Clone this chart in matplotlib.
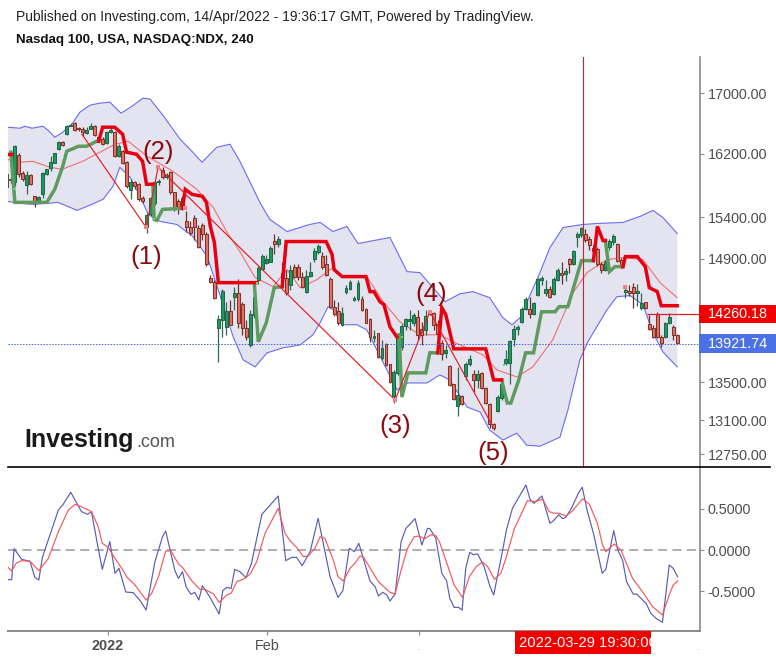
import numpy as np
import matplotlib
matplotlib.use("Agg")
import matplotlib.pyplot as plt
from matplotlib.lines import Line2D
from matplotlib.patches import Rectangle

W, H = 776, 660
plt.rcParams['font.family'] = ['Liberation Sans', 'DejaVu Sans']

opens = [15770,15871,15833,16178,15947,15795,15921,15657,15595,15682,15934,16011,16075,16256,16347,16452,16562,16597,16531,16518,16465,16518,16557,16413,16387,16334,16478,16478,16166,16230,16088,15733,15833,15808,15632,15273,15433,15570,15833,15985,15896,15960,15707,15595,15520,15347,15273,15384,15261,15298,15200,14675,14628,14099,14190,14111,14293,14454,14500,14373,14100,13909,14247,14651,14781,14852,14864,15115,15079,14734,14675,14593,14804,14804,14687,14512,14698,14899,14983,14935,14840,14663,14339,14293,14134,14512,14547,14419,14431,14431,14316,14202,13988,14044,13766,13920,13700,13354,13602,13887,14122,14179,14156,14224,14088,14077,14293,14270,14145,13931,13821,13678,13482,13248,13354,13569,13700,13591,13526,13602,13440,13269,13059,13195,13333,13711,13711,13976,14088,14167,14316,14316,14258,14477,14651,14500,14547,14488,14651,14734,14722,14899,14840,15152,15176,15200,15139,15031,15019,14840,14769,15043,15103,15079,14887,14512,14523,14570,14500,14327,14396,14145,14100,14258,13999,13999,14156,14111,14021]
highs = [15934,15896,16308,16204,15973,15973,15934,15657,15657,15960,15998,16166,16204,16360,16360,16571,16597,16610,16544,16544,16544,16597,16571,16439,16413,16491,16531,16491,16321,16243,16101,15871,15846,15821,15657,15445,15645,15846,15871,16024,15947,15973,15707,15620,15657,15470,15347,15421,15298,15322,15224,14710,14651,14247,14547,14396,14419,14570,14663,14396,14190,14304,14477,14816,14959,14947,15055,15188,15164,14864,14769,14828,14840,14840,14745,14769,14864,15031,15079,14983,14947,14687,14419,14396,14339,14593,14651,14466,14651,14466,14327,14213,14077,14044,13965,13931,13700,13634,14021,14145,14213,14304,14270,14304,14167,14304,14304,14281,14190,13965,13909,13689,13482,13667,13365,13722,13799,13634,13634,13612,13451,13279,13069,13365,13526,13854,13965,14134,14134,14339,14454,14454,14396,14675,14698,14651,14581,14687,14793,14864,14793,14911,15007,15224,15273,15249,15164,15067,15043,14864,14887,15139,15188,15091,14911,14570,14593,14616,14604,14500,14396,14247,14134,14281,14021,14167,14270,14134,14032]
lows = [15770,15821,15783,15896,15846,15682,15795,15520,15570,15632,15921,15973,16075,16243,16295,16439,16557,16491,16491,16426,16452,16518,16426,16360,16308,16321,16465,16153,16153,16062,15758,15620,15745,15595,15570,15212,15409,15545,15795,15871,15871,15682,15470,15433,15483,15224,15176,15127,15031,15127,14816,14616,14431,13722,13999,14021,14134,14304,14100,14021,13965,13887,14213,14640,14769,14840,14864,14959,15043,14628,14477,14535,14675,14651,14558,14500,14687,14864,14959,14781,14698,14327,14236,14134,14122,14488,14535,14408,14408,14293,14156,13943,13943,13766,13744,13678,13493,13279,13580,13854,14077,14077,14122,13965,13909,14021,14247,14077,13909,13744,13766,13461,13311,13142,13258,13526,13678,13397,13440,13429,13269,13017,12996,13184,13311,13689,13482,13898,14021,14156,14304,14213,14247,14466,14593,14466,14442,14477,14640,14604,14640,14734,14828,15043,15152,15103,15007,14887,14816,14734,14757,15007,15067,14864,14793,14442,14466,14327,14350,14304,14316,14077,13988,13988,13887,13988,14145,13965,13920]
closes = [15934,15858,16295,15934,15871,15921,15808,15595,15645,15947,15998,16088,16204,16347,16308,16557,16575,16505,16518,16478,16505,16557,16439,16373,16321,16478,16505,16166,16295,16075,15783,15833,15783,15620,15595,15421,15632,15833,15846,15896,15921,15707,15520,15520,15632,15273,15212,15273,15043,15200,14840,14628,14442,14201,14523,14293,14134,14500,14156,14100,13999,14258,14454,14793,14935,14899,15031,15079,15139,14675,14500,14769,14687,14687,14570,14698,14745,14995,15055,14804,14710,14339,14258,14156,14270,14558,14628,14431,14616,14304,14156,13999,14010,13777,13876,13689,13504,13612,13988,14122,14202,14202,14247,14021,14021,14236,14258,14134,14032,13810,13854,13472,13322,13365,13269,13700,13755,13526,13591,13440,13279,13059,13017,13343,13482,13755,13953,14088,14111,14316,14431,14258,14385,14663,14663,14547,14454,14663,14769,14710,14757,14840,14995,15200,15261,15127,15067,14995,14840,14769,14864,15115,15164,14875,14816,14523,14500,14500,14523,14385,14327,14088,13999,13999,13931,14156,14224,14021,13931]

upper_i = [0,3.3,4.5,6.3,9,10.3,12,14,16.3,18.3,20.8,23.3,25.8,28.6,31.4,34.1,35.9,39.1,43.4,46.6,48.9,52.6,55.9,58.4,63.4,65.9,70.2,75.9,78.5,81.7,85.2,88,96,100.3,103.5,106.8,109.8,113.6,116.8,121,124.3,126.6,128.6,133.6,136.1,139.4,144.4,147.9,154.4,158.7,161.9,164.4,168]
upper_v = [16544,16531,16557,16531,16557,16505,16413,16478,16584,16743,16837,16864,16878,16730,16824,16932,16918,16703,16387,16217,16088,16282,16321,16101,15582,15372,15224,15310,15335,15224,15286,15079,15152,14745,14734,14558,14396,14488,14512,14442,14213,14134,14213,14734,15031,15273,15310,15322,15335,15409,15483,15396,15200]
lower_i = [0,3.3,6.5,10.3,12.8,17.6,21.3,24.1,26.6,28.3,30.9,33.4,35.4,38.4,42.6,46.6,50.2,52.7,56.7,59.2,62.2,65.2,69.2,73.5,76.7,78.5,80.5,81.7,84.2,87.7,90.2,92.7,97.8,100.5,105.3,108.5,111,115.3,118.6,121,124.3,127.8,130.3,133.6,138.6,140.6,143.6,145.6,150.4,152.9,156.2,159.4,161.9,164.4,168]
lower_v = [15595,15570,15557,15570,15582,15483,15557,15620,15783,16024,15896,15657,15433,15347,15310,15164,14923,14570,13999,13744,13667,13821,13876,13909,14021,14156,14339,14304,14134,14134,14077,13854,13418,13493,13493,13580,13526,13237,13184,12996,12893,12964,12840,12830,12922,13205,13744,13943,14304,14454,14466,14362,14044,13832,13667]
middle_i = [0,3.3,6.5,10.8,13.8,19,23.3,27.1,30.4,35.1,41.6,47.6,51.7,55.2,58.4,62.2,66.7,70.2,73.5,77.7,81.7,84.2,90.2,94.3,98.5,103.5,108.5,111.8,119.3,122.8,127.8,131.8,136.8,141.9,145.4,150.4,154.4,159.4,163.7,168]
middle_v = [16127,16088,16101,16024,15998,16101,16217,16321,16360,16166,15973,15745,15520,15212,14983,14675,14570,14769,14558,14651,14793,14687,14687,14396,14167,14021,14021,13943,13799,13634,13558,13667,13965,14500,14734,14887,14911,14887,14616,14442]

green_i_1 = [1,2,10,12,14,15,18,20,22.5,23]
green_v_1 = [16217,15582,15582,15745,16037,16230,16295,16295,16360,16360]
green_i_2 = [36.6,36.9,37.6,39,44]
green_v_2 = [15808,15372,15360,15495,15508]
green_i_3 = [62,63,65,67,69]
green_v_3 = [14616,13943,14156,14558,14570]
green_i_4 = [98.3,99,100.5,105,106,108]
green_v_4 = [14021,13343,13602,13602,13821,13821]
green_i_5 = [124,125.4,126.3,128.3,130,132,134,137.4,138.4,140.6,144,147]
green_v_5 = [13526,13279,13279,13526,13821,13821,14281,14281,14339,14339,14875,14875]
green_i_6 = [150,151,152.4,154.4]
green_v_6 = [15115,14745,14804,14804]
red_i_0 = [0,1]
red_v_0 = [16191,16191]
red_i_1 = [23,24,27,29,30,32.5,34,35,36.6]
red_v_1 = [16360,16544,16544,16452,16217,16191,16101,15808,15808]
red_i_2 = [44,44.7,46.4,49,50,51,52,53,62.7]
red_v_2 = [15508,15745,15682,15657,15582,15286,15091,14616,14616]
red_i_3 = [69,70,80,81.5,82,84,90,91,92,93.5,94.5,96,97.7]
red_v_3 = [14570,15103,15103,14947,14769,14687,14687,14512,14512,14396,14362,14111,13999]
red_i_4 = [108,109,110,112,120,122,124]
red_v_4 = [13821,14327,14247,13865,13865,13526,13526]
red_i_5 = [147,148,149.4,150]
red_v_5 = [14875,15286,15115,15115]
red_i_6 = [154.4,155,158,160,161,163,164,168]
red_v_6 = [14804,14923,14923,14804,14558,14512,14350,14350]

wave_i = [18.8,34.9,37.9,97.3,106,121.6]
wave_v = [16452,15273,16024,13311,14281,13048]
wave_labels = ["(1)", "(2)", "(3)", "(4)", "(5)"]
wave_label_i = [35,38,97.3,106.3,121.8]
wave_label_v = [14915,16215,13035,14485,12760]

signal_green_i = [1.8,36.9,62.7,99,124.7,151]
signal_green_v = [15745,15372,14616,14000,13690,14995]
signal_red_i = [37.9,44.7,106,155,34.9,97.3]
signal_red_v = [16024,15508,14281,14570,15273,13311]

price_ticks = [17000,16200,15400,14900,13500,13100,12750]
last_high = 14260.18
last_close = 13921.74

blue_i = [0.3,1.2,1.8,3.7,5.8,7,8,8.9,12.9,14,16,18.7,20.2,21.2,22.5,23.9,25.8,27.1,28.1,29.8,31.7,33.4,34.9,37.1,39,39.8,42.1,43,44,44.9,46.1,47.1,48.1,49,50.9,53.2,54.1,55.1,56.2,57.1,58.4,59.9,61.3,63.9,68,69.9,71.4,72.6,74,76,78,81,83,84.2,85.8,87.1,88.2,91,92.3,93.1,94.2,95.2,96,97.3,98.8,100,102.3,104,105.4,106,107.5,109,110.2,111,112.1,113.2,114.1,115,116,116.9,118,119.6,121.1,122,124.1,125.2,126.7,128,130.1,131.1,132.1,134.1,136.1,137,138.3,139.3,140.1,141.6,143.3,144.2,145.5,147,149.2,150.1,152.1,153.1,154.3,155.3,157,157.8,160.2,161.4,162.7,164.3,166,167,168.1]
blue_v = [-.359,-.359,.016,-.113,-.137,-.331,-.363,-.089,.484,.544,.698,.464,.431,.464,.121,-.234,.101,-.282,-.222,-.508,-.516,-.613,-.726,-.141,.161,.23,-.25,-.343,-.262,-.444,-.536,-.512,-.605,-.431,-.573,-.774,-.492,-.452,-.464,-.234,-.262,-.335,-.161,.431,.653,-.129,-.089,-.089,-.19,-.02,.383,-.323,-.573,-.492,.02,-.02,.081,-.375,-.444,-.556,-.512,-.544,-.617,-.532,.101,.262,.379,.06,.262,.258,.141,-.282,-.371,-.585,-.694,-.694,-.726,-.222,-.028,-.056,-.048,-.202,-.444,-.544,-.04,.242,.504,.613,.786,.613,.565,.653,.323,.355,.427,.379,.395,.516,.694,.758,.464,.202,-.282,-.234,.234,0,-.121,-.383,-.536,-.532,-.645,-.766,-.827,-.875,-.181,-.222,-.323]
sig_i = [.3,1.2,2.3,3.7,5.8,8,10.4,12.9,15.4,17.1,19.2,21.2,22.9,23.9,25.4,27.1,28.8,30,32.1,34.9,36.3,38,39.8,41.1,43,44,46.3,48.4,49.6,51.8,53.2,55.1,56.2,57.6,59.7,61.1,62.6,64.7,68,69.7,71,72.6,74.3,75.5,77.2,78.5,79.7,81.8,83,84.3,86,87.2,88.5,89.3,93.1,96,97.3,98.8,100.4,102.1,103.4,104.6,106.3,107.5,108.4,110,112.1,114.2,115.9,117.6,119.2,120.5,122.2,123.8,125.2,127.2,128.8,130.5,132.2,134.3,135.9,137.2,138.4,140.1,141.8,144.3,146,148,149.3,150.1,152.2,153.9,156.8,159.3,161.8,164.3,166,167,168.1]
sig_v = [-.21,-.254,-.161,-.129,-.137,-.25,-.101,.222,.484,.552,.512,.464,.282,.081,.032,-.101,-.222,-.323,-.423,-.605,-.524,-.323,-.012,-.012,-.169,-.21,-.371,-.476,-.476,-.532,-.633,-.544,-.524,-.383,-.343,-.282,-.141,.202,.504,.202,.109,.032,-.081,-.073,.02,.161,.141,-.121,-.323,-.375,-.222,-.161,-.073,-.081,-.383,-.512,-.532,-.242,.02,.161,.169,.133,.185,.173,.101,-.121,-.423,-.573,-.323,-.202,-.145,-.202,-.355,-.282,-.081,.262,.423,.597,.585,.613,.464,.444,.444,.411,.476,.621,.552,.323,.06,-.02,.073,0,-.343,-.504,-.685,-.786,-.544,-.423,-.375]
osc_ticks = [0.5, 0.0, -0.5]

date_ticks = [25.3, 65.2, 103.4, 144.4]
date_labels = ["2022", "Feb", "", ""]
crosshair_label = "2022-03-29 19:30:00"

XL = (8 - 6.9) / 3.99
XR = (700 - 6.9) / 3.99
GREY = '#8a8a8a'
TXT = '#4f4f4f'

def axes_px(l, t, r, b):
    return fig.add_axes([l / W, 1 - b / H, (r - l) / W, (b - t) / H])

fig = plt.figure(figsize=(W / 100, H / 100), dpi=100)
ax = axes_px(8, 57, 700, 466)
ax2 = axes_px(8, 467, 700, 631)

ax.set_yscale('log')
ax.set_xlim(XL, XR)
ax.set_ylim(12629, 17496)
ax.minorticks_off()

ax.fill(list(upper_i) + list(lower_i)[::-1], list(upper_v) + list(lower_v)[::-1],
        color='#e3e4f0', lw=0, zorder=1)
ax.plot(upper_i, upper_v, color='#6a6cf0', lw=0.8, zorder=2)
ax.plot(lower_i, lower_v, color='#6a6cf0', lw=0.8, zorder=2)
ax.plot(middle_i, middle_v, color='#f07070', lw=0.8, zorder=2)

idx = np.arange(len(opens))
o, h, l, c = map(np.array, (opens, highs, lows, closes))
up = c >= o
ax.vlines(idx[up], l[up], h[up], color='#2d6b4f', lw=0.9, zorder=3)
ax.vlines(idx[~up], l[~up], h[~up], color='#6d3029', lw=0.9, zorder=3)
body_b = np.minimum(o, c)
body_h = np.maximum(np.abs(c - o), 14)
ax.bar(idx[up], body_h[up], bottom=body_b[up], width=0.72, color='#12a05e',
       edgecolor='#2a6349', lw=0.75, zorder=4)
ax.bar(idx[~up], body_h[~up], bottom=body_b[~up], width=0.72, color='#ea6f60',
       edgecolor='#7c352c', lw=0.75, zorder=4)

TG = '#5f9b5f'
TR = '#e80010'
for xs, ys in [(green_i_1, green_v_1), (green_i_2, green_v_2), (green_i_3, green_v_3),
               (green_i_4, green_v_4), (green_i_5, green_v_5), (green_i_6, green_v_6)]:
    ax.plot(xs, ys, color=TG, lw=2.5, solid_joinstyle='miter', zorder=5)
for xs, ys in [(red_i_0, red_v_0), (red_i_1, red_v_1), (red_i_2, red_v_2), (red_i_3, red_v_3),
               (red_i_4, red_v_4), (red_i_5, red_v_5), (red_i_6, red_v_6)]:
    ax.plot(xs, ys, color=TR, lw=2.5, solid_joinstyle='miter', zorder=5)

ax.plot(wave_i, wave_v, color='#e81c24', lw=0.85, zorder=6)
ax.scatter(signal_green_i, signal_green_v, s=4, marker='s', color='#55e36f', lw=0, zorder=6)
ax.scatter(signal_red_i, signal_red_v, s=5, marker='s', color='#ee8088', lw=0, zorder=6)
for t, xi, yv in zip(wave_labels, wave_label_i, wave_label_v):
    ax.text(xi, yv, t, color='#8b0a0e', fontsize=18.5, ha='center', va='center', zorder=7)

ax.axvline(date_ticks[3], color='#c8262c', lw=0.8, zorder=7)
ax.axhline(last_close, color='#3f63e0', lw=0.7, ls=(0, (1.5, 1.5)), zorder=6)
ax.hlines(last_high, 160.5, XR, color='#e81c24', lw=0.9, zorder=6)

for a in (ax, ax2):
    for s in ('top', 'left'):
        a.spines[s].set_visible(False)
    a.spines['right'].set_color(GREY)
    a.spines['right'].set_linewidth(1.2)
    a.yaxis.tick_right()
    a.tick_params(axis='y', length=3, width=0.8, color=GREY, labelcolor=TXT, labelsize=10.4, pad=2.5)

ax.spines['bottom'].set_visible(False)
ax.set_xticks([])
ax.set_yticks(price_ticks)
ax.set_yticklabels([f"{p:.2f}" for p in price_ticks])
ax.yaxis.set_minor_locator(matplotlib.ticker.NullLocator())

ax2.set_xlim(XL, XR)
ax2.set_ylim((550 - 631) / 82.7, (550 - 467) / 82.7)
ax2.axhline(0, color='#a8a8a8', lw=1.3, dashes=(5, 3), zorder=1)
ax2.plot(blue_i, blue_v, color='#5a5cb4', lw=0.85, zorder=2)
ax2.plot(sig_i, sig_v, color='#f2585c', lw=0.85, zorder=3)
ax2.spines['bottom'].set_color(GREY)
ax2.spines['bottom'].set_linewidth(1.4)
ax2.set_yticks(osc_ticks)
ax2.set_yticklabels([f"{v:.4f}" for v in osc_ticks])
ax2.set_xticks(date_ticks)
ax2.set_xticklabels(date_labels)
ax2.tick_params(axis='x', length=3, width=0.8, color=GREY, labelcolor=TXT, labelsize=10.4, pad=2.5)
ax2.get_xticklabels()[0].set_fontweight('bold')

def fx(px): return px / W
def fy(py): return 1 - py / H

fig.add_artist(Line2D([fx(8), fx(770)], [fy(466.5), fy(466.5)], color='black', lw=1.2))

fig.text(fx(16), fy(17), "Published on Investing.com, 14/Apr/2022 - 19:36:17 GMT, Powered by TradingView.",
         fontsize=10.0, color='#222222', va='center')
fig.text(fx(16), fy(40), "Nasdaq 100, USA, NASDAQ:NDX, 240",
         fontsize=9.65, color='#111111', va='center', fontweight='bold')
fig.text(fx(24), fy(447), "Investing", fontsize=18, fontweight='bold', color='#1a1a1a', va='baseline', zorder=8)
fig.text(fx(136), fy(447), ".com", fontsize=13, color='#555555', va='baseline', zorder=8)

for text_val, top, bot, col in [(last_high, 305, 323, '#f00000'), (last_close, 334, 353, '#4a72e6')]:
    fig.add_artist(Rectangle((fx(699), fy(bot)), (776 - 699) / W, (bot - top) / H,
                             transform=fig.transFigure, facecolor=col, edgecolor='none', zorder=9))
    fig.text(fx(708), fy((top + bot) / 2), f"{text_val:.2f}", color='white', fontsize=10.4,
             va='center', zorder=10)

box = Rectangle((fx(514.5), fy(654)), (650.5 - 514.5) / W, (654 - 631) / H,
                transform=fig.transFigure, facecolor='#f00000', edgecolor='none', zorder=9)
fig.add_artist(box)
t = fig.text(fx(519), fy(643), crosshair_label, color='white', fontsize=10.6, va='center', zorder=10)
t.set_clip_path(box)
t.set_clip_on(True)

fig.text(fx(418.5), fy(650), ".", color=GREY, fontsize=5, ha='center')
fig.text(fx(697), fy(650), ".", color=GREY, fontsize=5, ha='center')

fig.savefig('out.png', dpi=100)
